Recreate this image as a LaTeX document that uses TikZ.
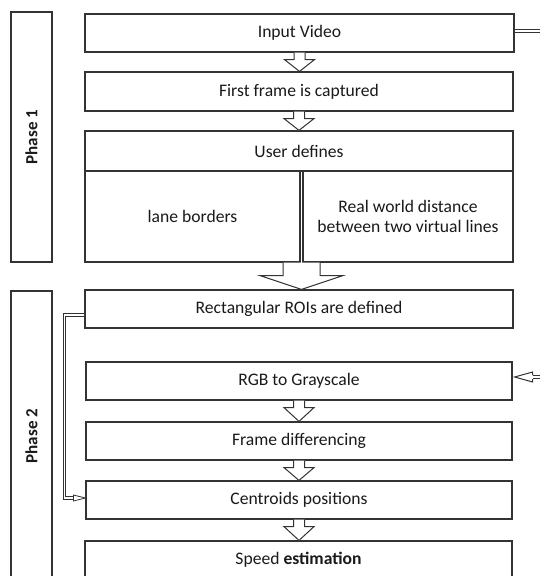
\documentclass[tikz,border=0pt]{standalone}
\usepackage{fontspec}
\setmainfont{Carlito}
\usetikzlibrary{calc}
\definecolor{ln}{HTML}{333333}
\definecolor{tx}{HTML}{1A1A1A}
\newcommand\dnarrow[2]{%
  \draw[arr] ($(#1.south)+(-5.5,0)$) -- ++(0,7) -- ++(-9.5,0) -- (#1.south |- #2.north)
    -- ($(#1.south)+(15,7)$) -- ++(-9.5,0) -- ++(0,-7);}
\begin{document}
\begin{tikzpicture}[x=1pt,y=-1pt,
  box/.style={draw=ln, line width=1.2pt, fill=white, inner sep=0pt, text=tx,
    font=\fontsize{17.6}{20}\selectfont, align=center},
  phasebox/.style={box, rotate=90, minimum width=#1, minimum height=41,
    font=\fontsize{17}{20}\selectfont\bfseries},
  arr/.style={draw=ln, line width=1pt, fill=white, line join=miter},
  dbl/.style={draw=ln, line width=1pt, double=white, double distance=2.6pt},
  dbltwo/.style={draw=ln, line width=1pt, double=white, double distance=1.5pt, line join=miter}]
\useasboundingbox (0,0) rectangle (540,576);

% phase boxes
\node[phasebox=250] (p1) at (31.5,137) {Phase 1};
\node[phasebox=290] (p2) at (31.5,436) {Phase 2};

% phase 1
\node[box, minimum width=429, minimum height=38] (iv) at (299.5,33) {Input Video};
\node[box, minimum width=428, minimum height=39] (ff) at (299,91.5) {First frame is captured};
\node[box, minimum width=428, minimum height=40] (ud) at (299,151) {User defines};
\node[box, minimum width=215, minimum height=91] (lb) at (192.5,216.5) {lane borders};
\node[box, minimum width=210, minimum height=91] (rw) at (408,216.5) {Real world distance\\between two virtual lines};

% phase 2
\node[box, minimum width=428, minimum height=38] (roi) at (299,309) {Rectangular ROIs are defined};
\node[box, minimum width=426, minimum height=38] (rgb) at (299,381) {RGB to Grayscale};
\node[box, minimum width=426, minimum height=38] (fd) at (299,441) {Frame differencing};
\node[box, minimum width=426, minimum height=38] (cen) at (299,500) {Centroids positions};
\node[box, minimum width=427, minimum height=38] (sp) at (298.5,560) {Speed \textbf{estimation}};

% small block arrows
\dnarrow{iv}{ff}
\dnarrow{ff}{ud}
\dnarrow{rgb}{fd}
\dnarrow{fd}{cen}
\dnarrow{cen}{sp}

% big block arrow
\coordinate (ubot) at ($(lb.south east)!0.5!(rw.south west)$);
\draw[arr] ($(ubot)+(-18.5,0)$) -- ++(0,13) -- ++(-23,0) -- (ubot |- roi.north)
  -- ($(ubot)+(41.5,13)$) -- ++(-23,0) -- ++(0,-13);

% output of input video
\coordinate (ivout) at (542,31);
\draw[dbl] ($(iv.east)+(0.6,-2)$) -- (ivout);

% input arrow into RGB
\coordinate (rgbtip) at ($(rgb.east)+(2,-4)$);
\coordinate (rgbin) at (542,377);
\draw[dbl] ($(rgbtip)+(18.5,0)$) -- (rgbin);
\draw[arr] ($(rgbtip)+(18,-2)$) -- ++(0,-3) -- (rgbtip) -- ($(rgbtip)+(18,5)$) -- ++(0,-3);

% left connector
\coordinate (lcone) at ($(roi.west)+(-20,6)$);
\coordinate (lctwo) at ($(cen.west)+(-12,-2)$);
\draw[dbltwo] ($(roi.west)+(0,6)$) -| (lcone |- lctwo) -- (lctwo);
\draw[arr, line width=0.8pt] ($(lctwo)+(0,-3)$) -- ($(cen.west)+(0,-2)$) -- ($(lctwo)+(0,3)$) -- cycle;
\end{tikzpicture}
\end{document}
